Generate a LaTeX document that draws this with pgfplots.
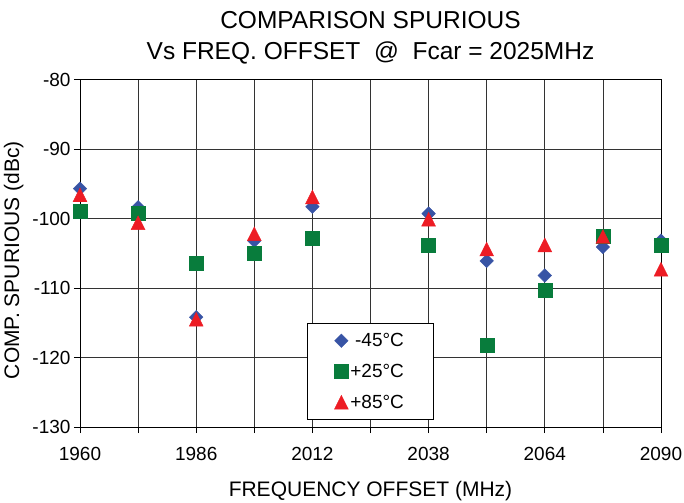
\documentclass[border=0pt]{standalone}
\usepackage{pgfplots}
\pgfplotsset{compat=1.18}
\usepackage{fontspec}
\setmainfont{Liberation Sans}
\definecolor{cblue}{RGB}{56,84,165}
\definecolor{cgreen}{RGB}{8,124,60}
\definecolor{cred}{RGB}{237,28,36}
\begin{document}
\begin{tikzpicture}
\useasboundingbox (-80bp,-76bp) rectangle (604bp,427bp);
\begin{axis}[
  at={(0,0)}, anchor=south west,
  scale only axis, width=581bp, height=347.5bp,
  xmin=1960, xmax=2090, ymin=-130, ymax=-80,
  xtick={1960,1986,2012,2038,2064,2090},
  xticklabels={1960,1986,2012,2038,2064,2090},
  minor xtick={1973,1999,2025,2051,2077},
  ytick={-130,-120,-110,-100,-90,-80},
  yticklabels={-130,-120,-110,-100,-90,-80},
  tick pos=left, tick align=outside,
  major tick length=6bp, minor tick length=6bp,
  grid=both,
  major grid style={black!80, line width=0.8bp},
  minor grid style={black!80, line width=0.8bp},
  axis line style={black, line width=0.9bp},
  every tick/.style={black, line width=0.8bp},
  ticklabel style={font=\fontsize{19bp}{22bp}\selectfont},
  xticklabel style={yshift=-11bp},
  xlabel={FREQUENCY OFFSET (MHz)},
  ylabel={COMP. SPURIOUS (dBc)},
  label style={font=\fontsize{21bp}{25bp}\selectfont},
  xlabel style={at={(axis description cs:0.5,-0.2014)}, anchor=base},
  ylabel style={at={(axis description cs:-0.114,0.48)}, anchor=center},
  clip=false,
  legend cell align=right,
  legend style={at={(0.3907,0.0201)}, anchor=south west, draw=black,
    line width=0.8bp, fill=white,
    font=\fontsize{19bp}{22bp}\selectfont,
    inner xsep=27bp, inner ysep=8bp, row sep=12bp},
]
\addplot[only marks, mark=square*, mark size=4.8bp,
  mark options={rotate=45, fill=cblue, draw=cblue, line width=0.4bp}]
  coordinates {
  (1960,-95.7) (1973,-98.4) (1986,-114.2) (1999,-103.2) (2012,-98.3)
  (2038,-99.3) (2051,-106.1) (2064,-108.2) (2077,-104.1) (2090,-103.2)
  };
\addlegendentry{-45°C}
\addplot[only marks, mark=square*, mark size=7bp,
  mark options={fill=cgreen, draw=cgreen, line width=0.4bp}]
  coordinates {
  (1960,-98.9) (1973,-99.2) (1986,-106.5) (1999,-105.0) (2012,-102.9)
  (2038,-103.8) (2051,-118.3) (2064,-110.3) (2077,-102.6) (2090,-103.9)
  };
\addlegendentry{+25°C}
\addplot[only marks, mark=triangle*, mark size=8bp,
  mark options={yshift=-2.3bp, yscale=1.15, fill=cred, draw=cred, line width=0.4bp}]
  coordinates {
  (1960,-96.6) (1973,-100.6) (1986,-114.5) (1999,-102.2) (2012,-96.9)
  (2038,-100.1) (2051,-104.4) (2064,-103.8) (2077,-102.6) (2090,-107.3)
  };
\addlegendentry{+85°C}
\end{axis}
\node[anchor=base, font=\fontsize{24.5bp}{28bp}\selectfont] at (290.5bp,398bp) {COMPARISON SPURIOUS};
\node[anchor=base, font=\fontsize{24.5bp}{28bp}\selectfont] at (290.5bp,367bp) {Vs FREQ. OFFSET \ @ \ Fcar = 2025MHz};
\end{tikzpicture}
\end{document}
